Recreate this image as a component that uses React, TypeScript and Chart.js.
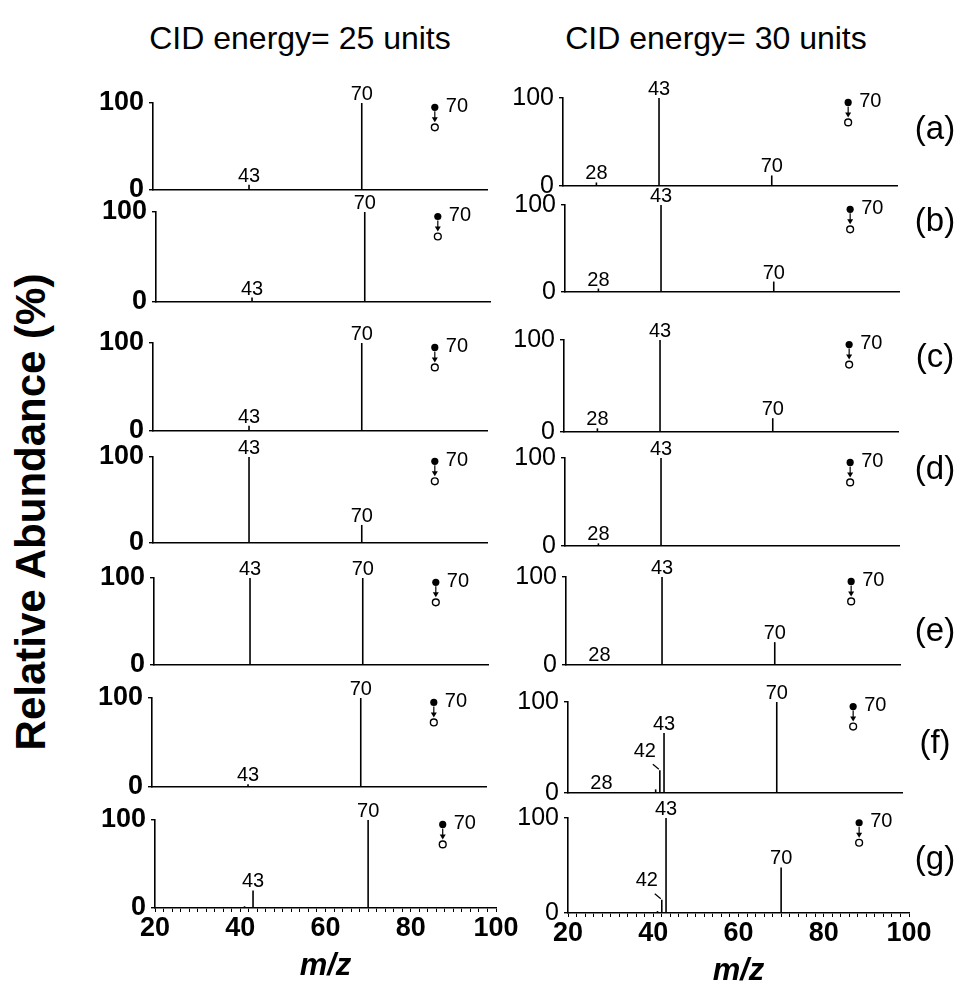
import React, { useEffect, useRef } from 'react';
import { Chart, registerables } from 'chart.js';
Chart.register(...registerables);

const FONT = '"Liberation Sans", Arial, Helvetica, sans-serif';

// ---- data: CID energy = 25 units (left column) ----
const a25Mz = [43, 70];
const a25Ab = [6, 100];
const b25Mz = [28, 43, 70];
const b25Ab = [1, 5, 100];
const c25Mz = [43, 70];
const c25Ab = [6, 100];
const d25Mz = [43, 70];
const d25Ab = [100, 21];
const e25Mz = [28, 43, 70];
const e25Ab = [1, 100, 100];
const f25Mz = [43, 70];
const f25Ab = [3, 100];
const g25Mz = [41, 43, 70];
const g25Ab = [2, 20, 100];

// ---- data: CID energy = 30 units (right column) ----
const a30Mz = [28, 43, 70];
const a30Ab = [4, 100, 12];
const b30Mz = [28, 43, 70];
const b30Ab = [4, 100, 12];
const c30Mz = [28, 43, 70];
const c30Ab = [4, 100, 15];
const d30Mz = [28, 43];
const d30Ab = [3, 100];
const e30Mz = [28, 43, 70];
const e30Ab = [1, 100, 26];
const f30Mz = [28, 41, 42, 43, 70];
const f30Ab = [1, 4, 25, 66, 100];
const g30Mz = [41, 42, 43, 70];
const g30Ab = [2, 14, 100, 48];

// peaks that carry a text label
const lab25 = [43, 70];
const lab30 = [28, 42, 43, 70];

const panelIds = ['(a)', '(b)', '(c)', '(d)', '(e)', '(f)', '(g)'];
const xTicks = [20, 40, 60, 80, 100];
const yTicks = [0, 100];
const precursorLabel = '70';

type Panel = {
  mz: number[];
  ab: number[];
  lab: number[];
  x0: number;
  x1: number;
  top: number;
  bot: number;
  left: boolean;
  bottomAxis: boolean;
};

const leftData: [number[], number[]][] = [
  [a25Mz, a25Ab], [b25Mz, b25Ab], [c25Mz, c25Ab], [d25Mz, d25Ab],
  [e25Mz, e25Ab], [f25Mz, f25Ab], [g25Mz, g25Ab],
];
const rightData: [number[], number[]][] = [
  [a30Mz, a30Ab], [b30Mz, b30Ab], [c30Mz, c30Ab], [d30Mz, d30Ab],
  [e30Mz, e30Ab], [f30Mz, f30Ab], [g30Mz, g30Ab],
];

// layout geometry (plot boxes)
const leftGeom = [
  [153, 487, 103, 190],
  [156, 490, 212, 302],
  [153, 487, 343, 431],
  [153, 487, 457, 543],
  [154, 488, 578, 665],
  [152, 486, 698, 787],
  [155, 496, 820, 908],
];
const rightGeom = [
  [563, 897, 98, 186],
  [565, 899, 205, 292],
  [564, 898, 340, 432],
  [565, 899, 458, 546],
  [566, 900, 577, 665],
  [568, 902, 702, 793],
  [568, 909, 818, 913],
];
const idY = [128, 220, 356, 468, 630, 742, 858];

const panels: Panel[] = [];
leftData.forEach((d, i) => {
  const g = leftGeom[i];
  panels.push({ mz: d[0], ab: d[1], lab: lab25, x0: g[0], x1: g[1], top: g[2], bot: g[3], left: true, bottomAxis: i === 6 });
});
rightData.forEach((d, i) => {
  const g = rightGeom[i];
  panels.push({ mz: d[0], ab: d[1], lab: lab30, x0: g[0], x1: g[1], top: g[2], bot: g[3], left: false, bottomAxis: i === 6 });
});

const W_Y = 72;
const PAD_TOP = 30;
const PAD_R = 24;

function PanelChart({ p }: { p: Panel }) {
  const ref = useRef<HTMLCanvasElement>(null);
  const xH = p.bottomAxis ? 76 : 0;
  const padB = p.bottomAxis ? 0 : 18;
  const width = W_Y + (p.x1 - p.x0) + PAD_R;
  const height = PAD_TOP + (p.bot - p.top) + xH + padB;

  useEffect(() => {
    if (!ref.current) return;
    const peakLabels = {
      id: 'peakLabels',
      afterDatasetsDraw(chart: any) {
        const ctx = chart.ctx;
        const xs = chart.scales.x;
        const ys = chart.scales.y;
        ctx.save();
        ctx.fillStyle = '#000';
        ctx.strokeStyle = '#000';
        ctx.font = `20px ${FONT}`;
        p.mz.forEach((m, i) => {
          if (p.lab.indexOf(m) < 0) return;
          const px = xs.getPixelForValue(m);
          const py = ys.getPixelForValue(p.ab[i]);
          if (m === 42) {
            ctx.textAlign = 'center';
            ctx.textBaseline = 'middle';
            ctx.fillText(String(m), px - 15, py - 19);
            ctx.lineWidth = 1.2;
            ctx.beginPath();
            ctx.moveTo(px - 7, py - 6);
            ctx.lineTo(px - 1, py - 1);
            ctx.stroke();
          } else {
            ctx.textAlign = 'center';
            ctx.textBaseline = 'alphabetic';
            ctx.fillText(String(m), px, py - 3);
          }
        });
        // precursor symbol
        const cx = xs.getPixelForValue(p.left ? 87.5 : 88.3);
        const cy = ys.getPixelForValue(95);
        ctx.beginPath();
        ctx.arc(cx, cy, 3.6, 0, Math.PI * 2);
        ctx.fill();
        ctx.lineWidth = 1.2;
        ctx.beginPath();
        ctx.moveTo(cx, cy + 4);
        ctx.lineTo(cx, cy + 12);
        ctx.stroke();
        ctx.beginPath();
        ctx.moveTo(cx - 3, cy + 10);
        ctx.lineTo(cx + 3, cy + 10);
        ctx.lineTo(cx, cy + 15);
        ctx.closePath();
        ctx.fill();
        ctx.lineWidth = 1.4;
        ctx.beginPath();
        ctx.arc(cx, cy + 20, 3.4, 0, Math.PI * 2);
        ctx.stroke();
        ctx.textAlign = 'left';
        ctx.textBaseline = 'middle';
        ctx.font = `20px ${FONT}`;
        ctx.fillText(precursorLabel, cx + 11, cy - 1);
        ctx.restore();
      },
    };

    const xScale: any = {
      type: 'linear',
      min: 20,
      max: 100,
      offset: false,
      afterFit: (s: any) => {
        s.height = xH;
        s.paddingLeft = 0;
        s.paddingRight = 0;
        s.paddingTop = 0;
        s.paddingBottom = 0;
      },
      border: { display: true, color: '#000', width: 1.6 },
    };
    if (p.bottomAxis) {
      Object.assign(xScale, {
        grid: { display: true, drawOnChartArea: false, drawTicks: true, tickLength: 4, color: '#000', lineWidth: 1, offset: false },
        ticks: {
          display: true,
          stepSize: 2,
          autoSkip: false,
          maxRotation: 0,
          padding: 0,
          color: '#000',
          font: { family: FONT, size: 27, weight: 'bold' },
          callback: (v: any) => (xTicks.indexOf(Number(v)) >= 0 ? String(v) : ''),
        },
        title: {
          display: true,
          text: 'm/z',
          color: '#000',
          font: { family: FONT, size: 31, weight: 'bold', style: 'italic', lineHeight: 1.0 },
          padding: { top: 0, bottom: 2 },
        },
      });
    } else {
      Object.assign(xScale, {
        grid: { display: false, offset: false },
        ticks: { display: false },
      });
    }

    const chart = new Chart(ref.current, {
      type: 'bar',
      data: {
        datasets: [
          {
            data: p.mz.map((m, i) => ({ x: m, y: p.ab[i] })),
            backgroundColor: '#000',
            borderWidth: 0,
            barThickness: 1.6,
            inflateAmount: 0,
            grouped: false,
          } as any,
        ],
      },
      options: {
        responsive: false,
        animation: false,
        devicePixelRatio: 1,
        layout: { padding: { top: PAD_TOP, right: PAD_R, bottom: padB, left: 0 } },
        plugins: { legend: { display: false }, tooltip: { enabled: false }, title: { display: false } },
        scales: {
          x: xScale,
          y: {
            type: 'linear',
            min: 0,
            max: 100,
            afterFit: (s: any) => {
              s.width = W_Y;
              s.paddingTop = 0;
              s.paddingBottom = 0;
              s.paddingLeft = 0;
              s.paddingRight = 0;
            },
            afterBuildTicks: (s: any) => { s.ticks = yTicks.map((v) => ({ value: v })); },
            border: { display: true, color: '#000', width: 1.6 },
            grid: { display: true, drawOnChartArea: false, drawTicks: true, tickLength: 4, color: '#000', lineWidth: 1.4 },
            ticks: {
              color: '#000',
              padding: 5,
              font: p.left
                ? { family: FONT, size: 27, weight: 'bold' }
                : { family: FONT, size: 25 },
            },
          },
        },
      } as any,
      plugins: [peakLabels],
    });
    return () => chart.destroy();
  }, []);

  return (
    <canvas
      ref={ref}
      width={width}
      height={height}
      style={{ position: 'absolute', left: p.x0 - W_Y, top: p.top - PAD_TOP, width, height }}
    />
  );
}

export default function App() {
  return (
    <div style={{ position: 'absolute', left: 0, top: 0, width: 971, height: 986, overflow: 'hidden', background: '#fff', fontFamily: FONT, color: '#000' }}>
      <div style={{ position: 'absolute', left: 300, top: 38, transform: 'translate(-50%,-50%)', fontSize: 32, whiteSpace: 'nowrap' }}>
        CID energy= 25 units
      </div>
      <div style={{ position: 'absolute', left: 716, top: 38, transform: 'translate(-50%,-50%)', fontSize: 32, whiteSpace: 'nowrap' }}>
        CID energy= 30 units
      </div>
      <div style={{ position: 'absolute', left: 31, top: 512, transform: 'translate(-50%,-50%) rotate(-90deg)', fontSize: 42, fontWeight: 'bold', whiteSpace: 'nowrap' }}>
        Relative Abundance (%)
      </div>
      {panels.map((p, i) => (
        <PanelChart key={i} p={p} />
      ))}
      {panelIds.map((t, i) => (
        <div key={t} style={{ position: 'absolute', left: 935, top: idY[i], transform: 'translate(-50%,-50%)', fontSize: 33, whiteSpace: 'nowrap' }}>
          {t}
        </div>
      ))}
    </div>
  );
}
